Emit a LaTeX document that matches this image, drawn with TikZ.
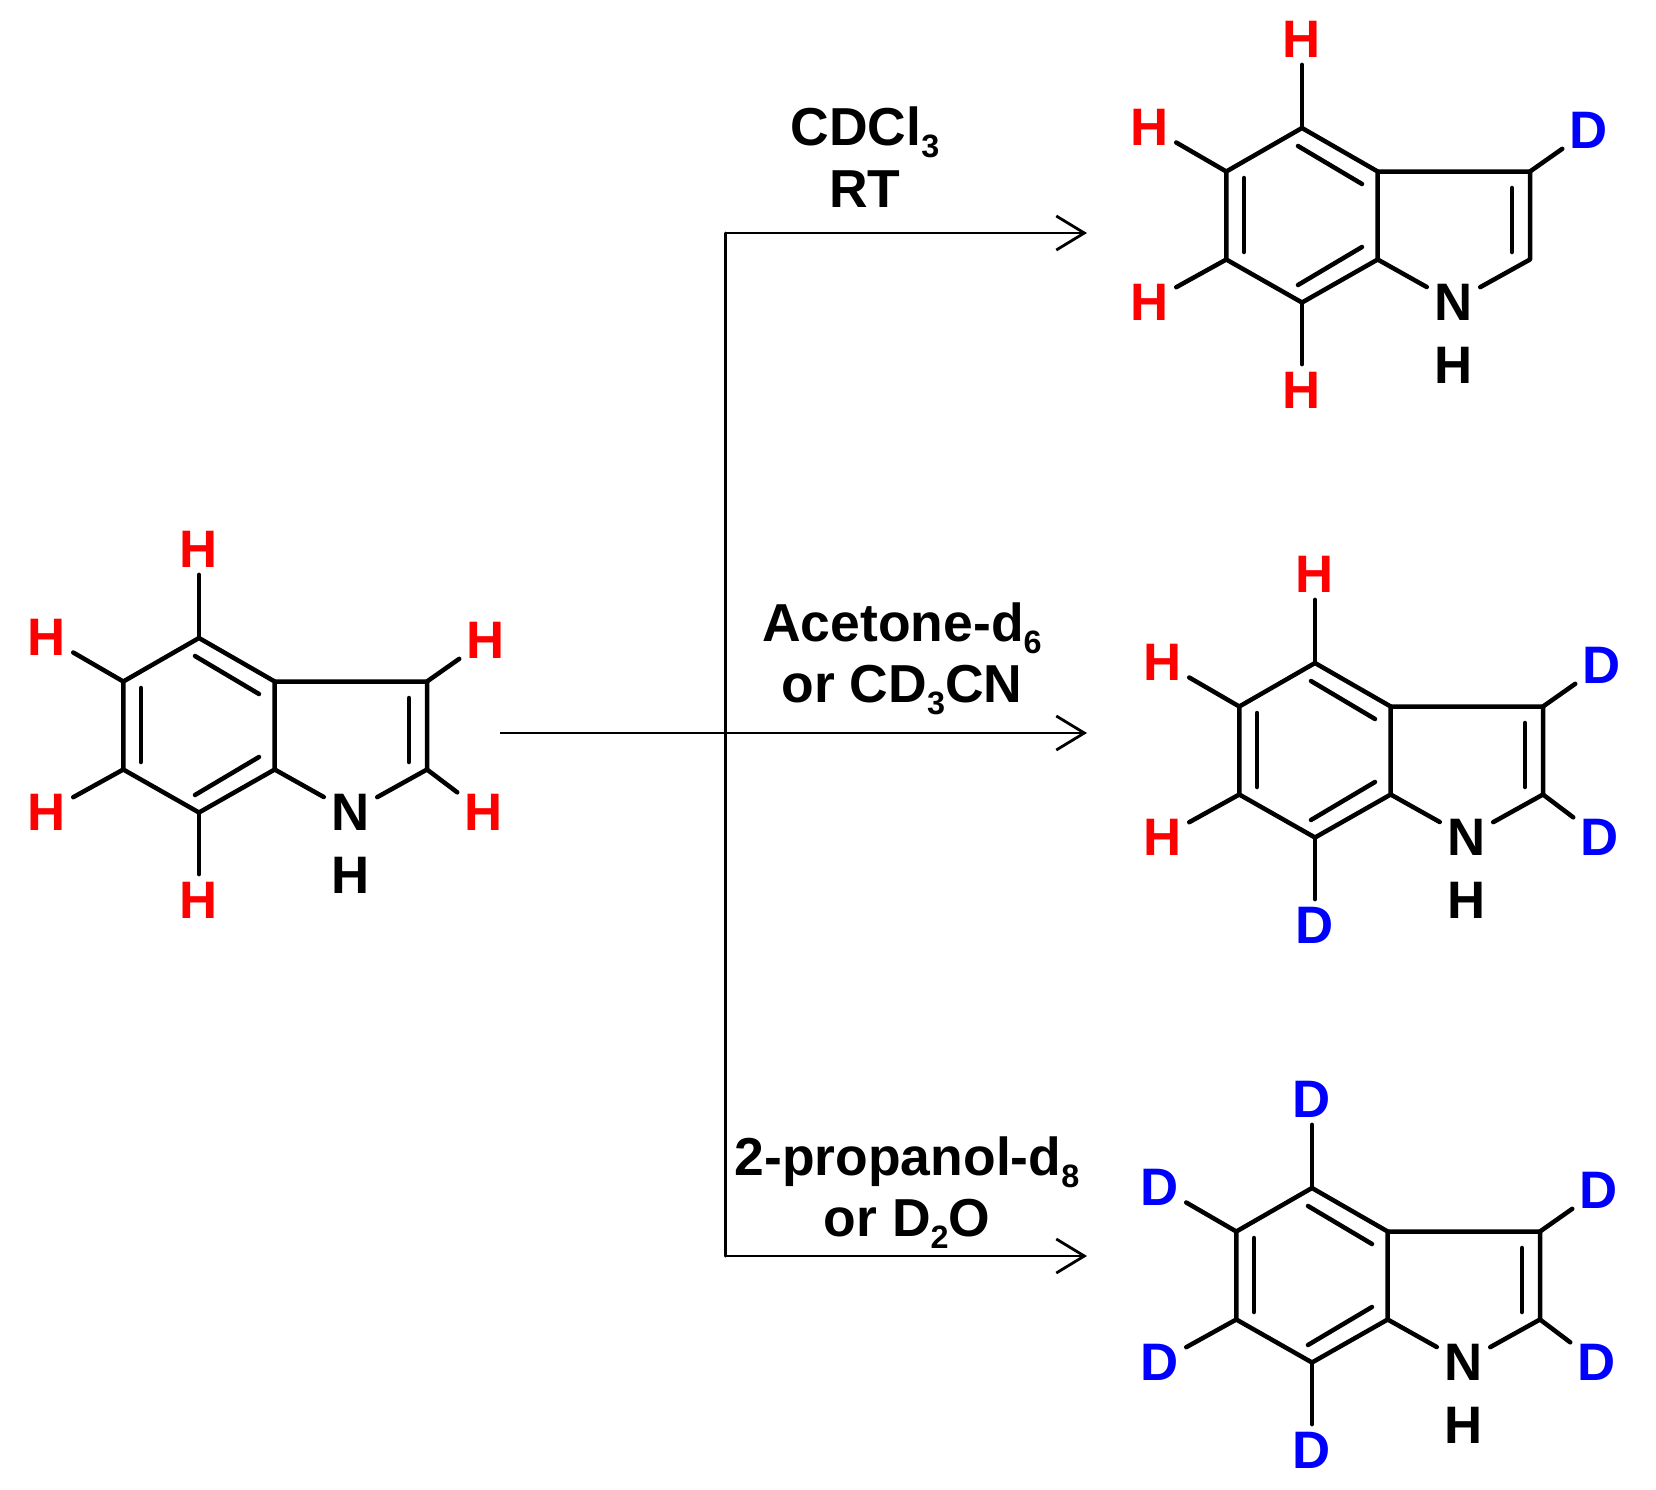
\documentclass[tikz,border=0pt]{standalone}
\usepackage{fontspec}
\setmainfont{Liberation Sans}
\usetikzlibrary{arrows.meta, positioning}
\definecolor{hred}{rgb}{1, 0, 0}
\definecolor{dblue}{rgb}{0, 0, 1}
\newcommand{\lowdigit}[1]{\raisebox{-3.4pt}{\fontsize{9.2}{9.2}\selectfont #1}}
\tikzset{
	bond/.style={line width=0.045cm, line cap=round, line join=round},
	atom/.style={font=\fontsize{15}{18}\selectfont\bfseries, inner sep=0.07cm},
	lblH/.style={atom, text=hred},
	lblD/.style={atom, text=dblue},
	solvent/.style={font=\fontsize{15.2}{18}\selectfont\bfseries, align=center, inner sep=0pt},
	route/.style={line width=0.028cm, -{Straight Barb[length=0.28cm, width=0.34cm]}},
	trunk/.style={line width=0.03cm, line cap=round}
}

\begin{document}
\begin{tikzpicture}[x=0.01cm, y=-0.01cm]
		\useasboundingbox (0,0) rectangle (1656,1490);
		% the four indoles: name, top carbon of the ring, then the substituents
		\foreach \m/\tx/\ty/\sa/\sb/\sc/\sd/\se in {sm/199/638/H/H/H/H/H, cdcl/1302/128/H/H/H/H/D, acet/1315/663/H/H/H/D/D, prop/1312/1188/D/D/D/D/D}{
			\begin{scope}[shift={(\tx,\ty)}]
				\coordinate (\m-top) at (0,0);
				\coordinate (\m-lt) at (-75.7,43.5);
				\coordinate (\m-lb) at (-75.7,131.5);
				\coordinate (\m-bot) at (0,174.5);
				\coordinate (\m-rb) at (75.7,131.5);
				\coordinate (\m-rt) at (75.7,43.5);
				\coordinate (\m-c3) at (228,43.5);
				\coordinate (\m-c2) at (228,131.5);
				\node [atom] (\m-n) at (151.5,174) {N};
				\node [atom] (\m-nh) at (151.5,237) {H};
				\node [lbl\sa] (\m-xa) at (0,-89) {\sa};
				\node [lbl\sb] (\m-xb) at (-152.5,-1) {\sb};
				\node [lbl\sc] (\m-xc) at (-152.5,174) {\sc};
				\node [lbl\sd] (\m-xd) at (0,262) {\sd};
				\node [lbl\se] (\m-xe) at (287,2) {\se};
				\draw [bond] (\m-top)--(\m-rt)--(\m-rb)--(\m-bot)--(\m-lb)--(\m-lt)--cycle;
				\draw [bond] (\m-rt)--(\m-c3)--(\m-c2)--(\m-n);
				\draw [bond] (\m-rb)--(\m-n);
				\draw [bond] (\m-top)--(\m-xa);
				\draw [bond] (\m-lt)--(\m-xb);
				\draw [bond] (\m-lb)--(\m-xc);
				\draw [bond] (\m-bot)--(\m-xd);
				\draw [bond] (\m-c3)--(\m-xe);
				\foreach \ax/\ay/\bx/\by in {-58/50/-58/124, -4/18/60/56, -4/157/60/119, 210/60/210/124}{
					\draw [bond] (\ax,\ay)--(\bx,\by);
				}
			\end{scope}
		}
		% only three of them carry a label on C2
		\foreach \m/\s in {sm/H, acet/D, prop/D}{
			\node [lbl\s] (\m-xf) at ([shift={(57,43)}]\m-c2) {\s};
			\draw [bond] (\m-c2)--(\m-xf);
		}
		\coordinate (start) at (500,733);
		\coordinate (forktop) at (725,233);
		\coordinate (forkbot) at (725,1256);
		\coordinate (tiptop) at (1087,233);
		\coordinate (tipmid) at (1087,733);
		\coordinate (tipbot) at (1087,1256);
		\draw [trunk] (forktop)--(forkbot);
		\draw [route] (start)--(tipmid);
		\draw [route] (forktop)--(tiptop);
		\draw [route] (forkbot)--(tipbot);
		\node [solvent] (cond-cdcl) at (865,157.4) {CDCl\lowdigit{3}\\[-0.3pt]RT};
		\node [solvent] (cond-acet) at (902,659) {Acetone-d\lowdigit{6}\\[-0.5pt]or CD\lowdigit{3}CN};
		\node [solvent] (cond-prop) at (907,1192.6) {2-propanol-d\lowdigit{8}\\[-0.9pt]or D\lowdigit{2}O};
	\end{tikzpicture}
\end{document}
